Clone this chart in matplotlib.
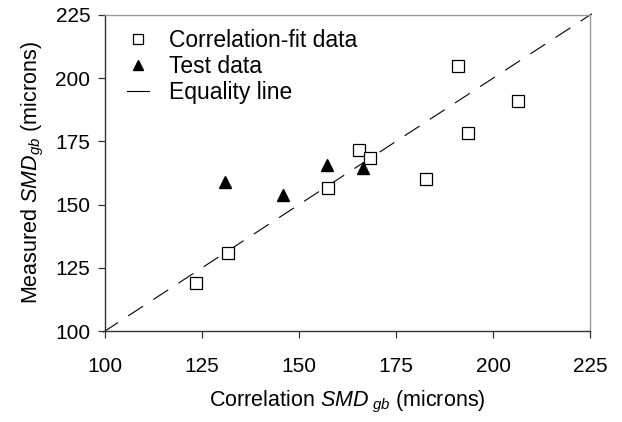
import matplotlib
matplotlib.use("Agg")
import matplotlib.pyplot as plt

plt.rcParams['font.family'] = ['Liberation Sans', 'DejaVu Sans']
plt.rcParams['mathtext.fontset'] = 'custom'
plt.rcParams['mathtext.rm'] = 'Liberation Sans'
plt.rcParams['mathtext.it'] = 'Liberation Sans:italic'

# correlation-fit data (correlation SMD, measured SMD)
fit_x = [123.5, 131.8, 157.4, 165.5, 168.3, 182.6, 191.0, 193.5, 206.4]
fit_y = [119.1, 130.7, 156.4, 171.7, 168.4, 160.3, 204.7, 178.3, 191.1]
# test data
test_x = [130.9, 145.8, 157.3, 166.4]
test_y = [159.1, 153.8, 165.7, 164.6]
# equality line
eq = [99.5, 225.5]
ticks = [100, 125, 150, 175, 200, 225]

fig = plt.figure(figsize=(6.22, 4.22), dpi=100)
ax = fig.add_axes([0.1688, 0.2156, 0.7798, 0.7489])

ax.plot(eq, eq, color='black', lw=0.8, dashes=(16, 11), clip_on=False,
        label='Equality line', zorder=1)
ax.plot(fit_x, fit_y, ls='none', marker='s', ms=8.5, mfc='white', mec='black',
        mew=0.9, label='Correlation-fit data', zorder=3)
ax.plot(test_x, test_y, ls='none', marker='^', ms=9, mfc='black', mec='black',
        label='Test data', zorder=3)

ax.set_xlim(100, 225)
ax.set_ylim(100, 225)
ax.set_xticks(ticks)
ax.set_yticks(ticks)
ax.tick_params(labelsize=15, length=5, width=0.9, direction='out', color='#333333')
ax.tick_params(axis='x', pad=14)
ax.tick_params(axis='y', pad=5.5)
for s in ['left', 'bottom']:
    ax.spines[s].set_color('#333333')
    ax.spines[s].set_linewidth(1.0)
for s in ['top', 'right']:
    ax.spines[s].set_color('#999999')
    ax.spines[s].set_linewidth(1.0)

ax.set_xlabel(r'Correlation $\mathit{SMD}_{\ gb}$ (microns)', fontsize=15.5, labelpad=9)
ax.set_ylabel(r'Measured $\mathit{SMD}_{gb}$ (microns)', fontsize=15.5, labelpad=7)

h, l = ax.get_legend_handles_labels()
leg = ax.legend([h[1], h[2], h[0]], [l[1], l[2], l[0]], loc='upper left',
                frameon=False, fontsize=16.5, handlelength=1.0, handletextpad=0.85,
                labelspacing=0.13, borderaxespad=0.2,
                bbox_to_anchor=(0.016, 1.0))
leg.legend_handles[2].set_dashes([])
leg.legend_handles[2].set_linestyle('-')
for t in leg.legend_handles[:2]:
    t.set_markersize(7.5)

fig.savefig('out.png', dpi=100)
